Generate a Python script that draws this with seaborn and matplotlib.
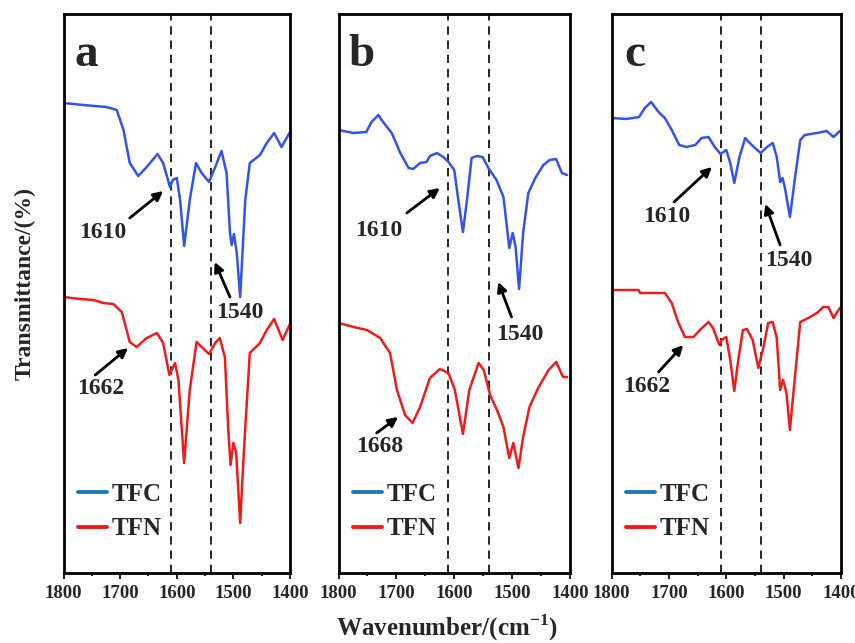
import matplotlib
matplotlib.use("Agg")
import matplotlib.pyplot as plt
from matplotlib.lines import Line2D
import seaborn as sns

# FTIR spectra, wavenumber (cm-1) vs transmittance (arb. units, offset)
a_tfc_wn = [1800, 1765, 1724, 1706, 1694, 1683, 1668, 1653, 1634, 1624, 1612, 1607, 1600, 1594,
            1587, 1577, 1566, 1556, 1543, 1532, 1521, 1512, 1506, 1503, 1499, 1494, 1488, 1479,
            1471, 1453, 1441, 1428, 1415, 1401]
a_tfc_t = [470, 468, 466, 463, 443, 410, 397, 406, 419, 410, 386, 393, 395, 373,
           327, 373, 410, 400, 391, 406, 422, 400, 340, 328, 339, 320, 276, 373,
           410, 418, 430, 440, 426, 440]
a_tfn_wn = [1800, 1771, 1747, 1730, 1712, 1697, 1683, 1671, 1653, 1635, 1624, 1613, 1603, 1597,
            1587, 1577, 1565, 1556, 1543, 1532, 1524, 1515, 1509, 1505, 1500, 1495, 1488, 1481,
            1471, 1453, 1441, 1428, 1413, 1401]
a_tfn_t = [276, 274, 273, 270, 269, 261, 231, 226, 235, 240, 230, 198, 210, 193,
           110, 183, 231, 226, 219, 230, 235, 216, 143, 108, 130, 120, 50, 126,
           220, 230, 243, 254, 233, 248]

b_tfc_wn = [1800, 1774, 1752, 1743, 1731, 1723, 1708, 1694, 1679, 1671, 1659, 1648, 1642, 1630,
            1619, 1610, 1600, 1593, 1585, 1578, 1570, 1561, 1551, 1541, 1527, 1515, 1509, 1505,
            1499, 1494, 1488, 1481, 1472, 1460, 1446, 1435, 1424, 1414, 1405]
b_tfc_t = [443, 440, 441, 451, 458, 451, 440, 421, 405, 404, 410, 411, 417, 420,
           416, 411, 403, 373, 341, 373, 415, 417, 416, 405, 393, 376, 346, 325,
           340, 326, 284, 340, 380, 395, 408, 413, 414, 400, 398]
b_tfn_wn = [1800, 1774, 1751, 1728, 1711, 1699, 1685, 1672, 1659, 1642, 1625, 1610, 1599, 1585,
            1574, 1558, 1549, 1538, 1524, 1515, 1505, 1498, 1489, 1481, 1470, 1455, 1437, 1424,
            1412, 1405]
b_tfn_t = [250, 246, 243, 235, 220, 183, 158, 150, 166, 195, 204, 200, 183, 139,
           183, 210, 203, 178, 160, 146, 115, 130, 105, 136, 166, 185, 203, 211,
           196, 196]

c_tfc_wn = [1800, 1774, 1752, 1742, 1731, 1718, 1707, 1695, 1682, 1669, 1654, 1643, 1631, 1620,
            1610, 1600, 1593, 1586, 1577, 1567, 1559, 1550, 1540, 1529, 1519, 1512, 1506, 1502,
            1498, 1489, 1480, 1471, 1463, 1442, 1425, 1413, 1402]
c_tfc_t = [455, 454, 456, 465, 471, 461, 455, 443, 428, 426, 428, 435, 436, 426,
           419, 423, 410, 390, 416, 435, 430, 425, 420, 426, 430, 416, 391, 395,
           386, 356, 396, 433, 438, 440, 442, 436, 442]
c_tfn_wn = [1800, 1753, 1750, 1707, 1695, 1684, 1672, 1657, 1646, 1631, 1623, 1612, 1608, 1600,
            1593, 1586, 1579, 1571, 1564, 1554, 1544, 1535, 1527, 1519, 1512, 1506, 1501, 1495,
            1489, 1482, 1471, 1457, 1442, 1431, 1422, 1413, 1402]
c_tfn_t = [283, 283, 280, 280, 270, 251, 236, 236, 243, 251, 245, 228, 233, 236,
           213, 182, 213, 243, 244, 233, 205, 226, 250, 251, 235, 183, 193, 180,
           143, 186, 251, 255, 260, 266, 266, 255, 265]

ref_lines = [1610, 1540]
panel_letters = ["a", "b", "c"]

# (text, text_pos, arrow_tail, arrow_head) in data coordinates
notes = [
    [("1610", (1730, 341), (1683, 355), (1624, 382)),
     ("1540", (1488, 260), (1506, 276), (1533, 311)),
     ("1662", (1735, 184), (1744, 198), (1686, 225))],
    [("1610", (1730, 343), (1682, 360), (1625, 385)),
     ("1540", (1486, 239), (1501, 256), (1524, 291)),
     ("1668", (1728, 126), (1734, 140), (1697, 156))],
    [("1610", (1703, 356), (1691, 371), (1625, 406)),
     ("1540", (1491, 312), (1506, 328), (1532, 369)),
     ("1662", (1738, 186), (1718, 201), (1675, 228))],
]

sns.set_style("white")
plt.rcParams["font.family"] = ["Liberation Serif", "DejaVu Serif"]
plt.rcParams["font.weight"] = "bold"
plt.rcParams["mathtext.fontset"] = "custom"
plt.rcParams["mathtext.rm"] = "Liberation Serif"
plt.rcParams["mathtext.bf"] = "Liberation Serif:bold"

BLUE = "#3453ec"
RED = "#ee1d1d"

fig = plt.figure(figsize=(8.55, 6.43), dpi=100)
W, H = 855, 643
boxes = [(63.5, 290), (338.5, 570), (611.5, 841)]
top_px, bot_px = 13.5, 573

data = [
    (a_tfc_wn, a_tfc_t, a_tfn_wn, a_tfn_t),
    (b_tfc_wn, b_tfc_t, b_tfn_wn, b_tfn_t),
    (c_tfc_wn, c_tfc_t, c_tfn_wn, c_tfn_t),
]

for i, (l, r) in enumerate(boxes):
    ax = fig.add_axes([l / W, 1 - bot_px / H, (r - l) / W, (bot_px - top_px) / H])
    tw, tt, nw, nt = data[i]
    sns.lineplot(x=tw, y=tt, ax=ax, color=BLUE, lw=1.8, sort=False)
    sns.lineplot(x=nw, y=nt, ax=ax, color=RED, lw=1.8, sort=False)
    for xv in ref_lines:
        ax.axvline(xv, color="k", lw=1.2, ls=(0, (5, 3.5)), zorder=1)
    ax.set_xlim(1800, 1400)
    ax.set_ylim(0, bot_px - top_px)
    ax.set_xticks([1800, 1700, 1600, 1500, 1400])
    ax.set_xticks([1750, 1650, 1550, 1450], minor=True)
    ax.set_yticks([])
    ax.tick_params(axis="x", which="major", direction="out", length=4, width=1.5,
                   labelsize=13.5, pad=5, bottom=True)
    ax.tick_params(axis="x", which="minor", direction="out", length=2.5, width=1.5, bottom=True)
    for lab in ax.get_xticklabels():
        lab.set_fontweight("bold")
    for sp in ax.spines.values():
        sp.set_linewidth(2)
        sp.set_color("k")
    ax.set_xlabel("")
    ax.set_ylabel("")

    ax.text(0.10, 0.925, panel_letters[i], transform=ax.transAxes, fontsize=34,
            fontweight="bold", ha="center", va="center")
    for txt, tpos, tail, head in notes[i]:
        ax.annotate("", xy=head, xytext=tail,
                    arrowprops=dict(arrowstyle="-|>", color="k", lw=2, mutation_scale=14,
                                    shrinkA=0, shrinkB=0))
        ax.text(tpos[0], tpos[1], txt, fontsize=17, fontweight="bold", ha="center", va="center")

    handles = [Line2D([], [], color="#1f77b4", lw=2.8), Line2D([], [], color=RED, lw=2.8)]
    ax.legend(handles, ["TFC", "TFN"], loc="lower left", bbox_to_anchor=(-0.035, 0.018),
              frameon=False, handlelength=1.15, handletextpad=0.2, labelspacing=0.45,
              prop={"size": 18, "weight": "bold"})

fig.text(25 / W, 1 - 283 / H, "Transmittance/(%)", rotation=90, fontsize=17,
         fontweight="bold", ha="center", va="center")
fig.text(447 / W, 1 - 628 / H, r"Wavenumber/(cm$^{\mathbf{-1}}$)", fontsize=18,
         fontweight="bold", ha="center", va="center")

fig.savefig("out.png", dpi=100)
